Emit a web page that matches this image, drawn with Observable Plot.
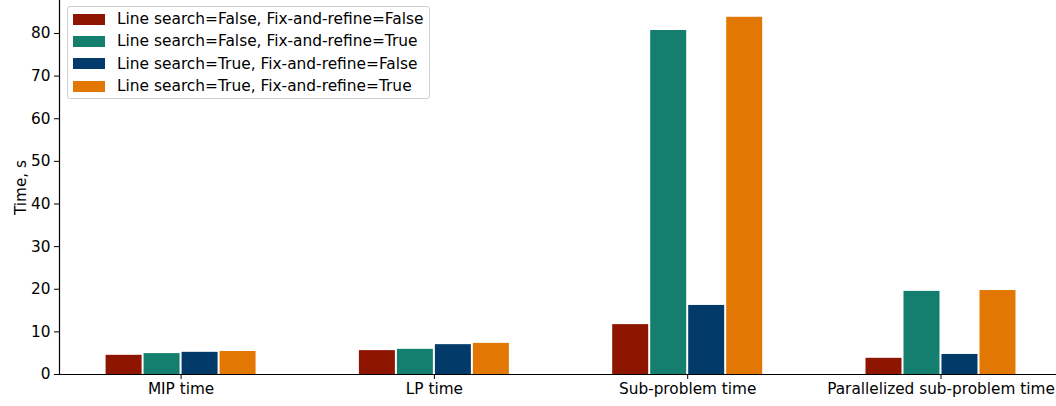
<!DOCTYPE html>
<html>
<head>
<meta charset="utf-8">
<script src="https://cdn.jsdelivr.net/npm/d3@7"></script>
<script src="https://cdn.jsdelivr.net/npm/@observablehq/plot@0.6"></script>
<style>
  html, body { margin: 0; padding: 0; background: #fff; }
  #wrap { position: relative; width: 1056px; height: 406px; font-family: "DejaVu Sans", sans-serif; }
  #legend {
    position: absolute; left: 67px; top: 6px; width: 361px; height: 91px;
    border: 1px solid #d0d0d0; border-radius: 3px; background: rgba(255,255,255,0.85);
    font-size: 15.4px; color: #000;
  }
  .row { position: absolute; left: 0; height: 22px; }
  .sw { position: absolute; left: 5px; width: 32px; height: 11px; }
  .lab { position: absolute; left: 49px; white-space: nowrap; line-height: 22px; top: 0; }
</style>
</head>
<body>
<div id="wrap"><div id="chart"></div><div id="legend"></div></div>
<script>
const categories = ["MIP time", "LP time", "Sub-problem time", "Parallelized sub-problem time"];
const seriesNames = [
  "Line search=False, Fix-and-refine=False",
  "Line search=False, Fix-and-refine=True",
  "Line search=True, Fix-and-refine=False",
  "Line search=True, Fix-and-refine=True"
];
const seriesColors = ["#8e1600", "#157f6f", "#023a6a", "#e27803"];
const lsFalseFrFalse = [4.5, 5.6, 11.7, 3.8];
const lsFalseFrTrue  = [4.9, 5.9, 80.7, 19.5];
const lsTrueFrFalse  = [5.2, 7.0, 16.2, 4.7];
const lsTrueFrTrue   = [5.4, 7.3, 83.8, 19.7];
const yTicks = [0, 10, 20, 30, 40, 50, 60, 70, 80];

const seriesValues = [lsFalseFrFalse, lsFalseFrTrue, lsTrueFrFalse, lsTrueFrTrue];
const barWidth = 0.15;
const rows = [];
seriesValues.forEach((vals, j) => {
  vals.forEach((v, i) => {
    const x1 = i - 2 * barWidth + j * barWidth;
    rows.push({category: categories[i], series: seriesNames[j], value: v, x1, x2: x1 + barWidth});
  });
});

const xMin = -0.48, xMax = 3.456;

const chart = Plot.plot({
  width: 1056,
  height: 406,
  marginLeft: 59,
  marginRight: 0,
  marginTop: 0,
  marginBottom: 32,
  style: {fontFamily: "DejaVu Sans", fontSize: "15.3px", color: "#000", background: "#fff"},
  x: {type: "linear", domain: [xMin, xMax]},
  y: {domain: [0, 87.74]},
  color: {domain: seriesNames, range: seriesColors},
  marks: [
    Plot.rectY(rows, {x1: "x1", x2: "x2", y1: 0, y2: "value", fill: "series", insetLeft: 1, insetRight: 1}),
    Plot.axisX({ticks: [0, 1, 2, 3], tickFormat: i => categories[i], tickSize: 5, tickPadding: 4, label: null, stroke: "#000"}),
    Plot.axisY({ticks: yTicks, tickSize: 5, tickPadding: 4, label: "Time, s", labelAnchor: "center", labelArrow: "none", labelOffset: 44, stroke: "#000"}),
    Plot.ruleY([0], {stroke: "#000", strokeWidth: 1.2}),
    Plot.ruleX([xMin], {stroke: "#000", strokeWidth: 1.2})
  ]
});
document.getElementById("chart").appendChild(chart);

const legend = document.getElementById("legend");
seriesNames.forEach((name, j) => {
  const row = document.createElement("div");
  row.className = "row";
  row.style.top = (1 + j * 22.4) + "px";
  row.style.width = "100%";
  const sw = document.createElement("div");
  sw.className = "sw";
  sw.style.background = seriesColors[j];
  sw.style.top = "5.5px";
  const lab = document.createElement("div");
  lab.className = "lab";
  lab.textContent = name;
  row.appendChild(sw);
  row.appendChild(lab);
  legend.appendChild(row);
});
</script>
</body>
</html>
